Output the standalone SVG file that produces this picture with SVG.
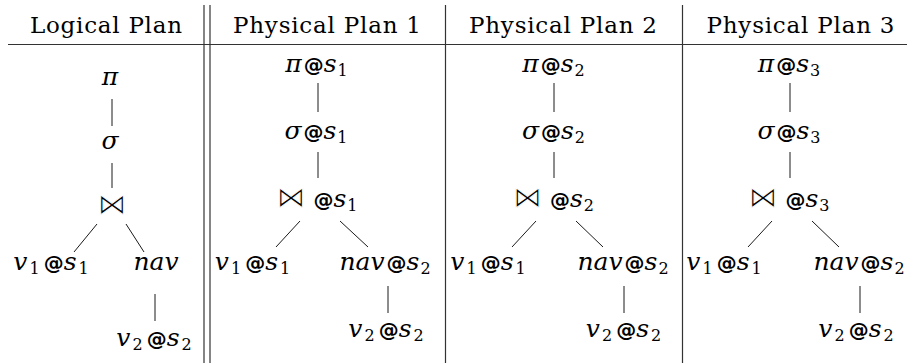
<svg xmlns="http://www.w3.org/2000/svg" width="907" height="363" viewBox="0 0 907 363">
<style>
.h{font-family:"DejaVu Serif",serif;font-size:23px;fill:#000}
.m{font-family:"DejaVu Serif",serif;font-style:italic;font-size:25px;fill:#000}
.sub{font-family:"DejaVu Serif",serif;font-style:normal;font-size:16px}
.at{font-family:"DejaVu Sans",sans-serif;font-weight:bold;font-style:normal;font-size:20px}
.bt{font-family:"DejaVu Sans",sans-serif;font-style:normal;font-size:29px;stroke:#fff;stroke-width:1}
.rule{stroke:#333;stroke-width:1.2;fill:none}
.edge{stroke:#000;stroke-width:0.9;fill:none}
</style>
<rect width="907" height="363" fill="#fff"/>
<g id="table">
<line class="rule" x1="8" y1="44.5" x2="907" y2="44.5"/>
<line class="rule" x1="204" y1="5" x2="204" y2="363"/>
<line class="rule" x1="210" y1="5" x2="210" y2="363"/>
<line class="rule" x1="445.5" y1="5" x2="445.5" y2="363"/>
<line class="rule" x1="682.5" y1="5" x2="682.5" y2="363"/>
<text class="h" x="106" y="33" text-anchor="middle" textLength="152" lengthAdjust="spacing">Logical Plan</text>
<text class="h" x="327" y="33" text-anchor="middle" textLength="188" lengthAdjust="spacing">Physical Plan 1</text>
<text class="h" x="563" y="33" text-anchor="middle" textLength="188" lengthAdjust="spacing">Physical Plan 2</text>
<text class="h" x="800.5" y="33" text-anchor="middle" textLength="188" lengthAdjust="spacing">Physical Plan 3</text>
</g>
<g id="connectors">
<line class="edge" x1="112" y1="99" x2="112" y2="126"/>
<line class="edge" x1="112" y1="163" x2="112" y2="188"/>
<line class="edge" x1="97" y1="224" x2="74" y2="252"/>
<line class="edge" x1="126" y1="224" x2="144" y2="252"/>
<line class="edge" x1="155" y1="294" x2="155" y2="321"/>
<line class="edge" x1="318" y1="83" x2="318" y2="112"/>
<line class="edge" x1="318" y1="152" x2="318" y2="178"/>
<line class="edge" x1="300" y1="221" x2="276" y2="247"/>
<line class="edge" x1="340" y1="221" x2="368" y2="247"/>
<line class="edge" x1="388" y1="286" x2="388" y2="313"/>
<line class="edge" x1="554" y1="83" x2="554" y2="112"/>
<line class="edge" x1="554" y1="152" x2="554" y2="178"/>
<line class="edge" x1="536" y1="221" x2="512" y2="247"/>
<line class="edge" x1="576" y1="221" x2="603" y2="247"/>
<line class="edge" x1="624" y1="286" x2="624" y2="313"/>
<line class="edge" x1="790" y1="83" x2="790" y2="112"/>
<line class="edge" x1="790" y1="152" x2="790" y2="178"/>
<line class="edge" x1="772" y1="221" x2="748" y2="247"/>
<line class="edge" x1="812" y1="221" x2="839" y2="247"/>
<line class="edge" x1="860" y1="286" x2="860" y2="313"/>
</g>
<g id="L-pi"><text class="m" x="110" y="85" text-anchor="middle">π</text></g>
<g id="L-sigma"><text class="m" x="110" y="149" text-anchor="middle">σ</text></g>
<g id="L-join"><text class="m" x="112" y="214" text-anchor="middle"><tspan class="bt">⋈</tspan></text></g>
<g id="L-v1"><text class="m" x="51" y="270" text-anchor="middle">v<tspan class="sub" dy="4" dx="2">1</tspan><tspan class="at" dy="-4" dx="4">@</tspan>s<tspan class="sub" dy="4" dx="2">1</tspan></text></g>
<g id="L-nav"><text class="m" x="156" y="270" text-anchor="middle">nav</text></g>
<g id="L-v2"><text class="m" x="154" y="346" text-anchor="middle">v<tspan class="sub" dy="4" dx="2">2</tspan><tspan class="at" dy="-4" dx="4">@</tspan>s<tspan class="sub" dy="4" dx="2">2</tspan></text></g>

<g id="P1-pi"><text class="m" x="316.5" y="72" text-anchor="middle">π<tspan class="at" dx="2">@</tspan>s<tspan class="sub" dy="4" dx="1">1</tspan></text></g>
<g id="P1-sigma"><text class="m" x="316" y="139" text-anchor="middle">σ<tspan class="at" dx="2">@</tspan>s<tspan class="sub" dy="4" dx="1">1</tspan></text></g>
<g id="P1-join"><text class="m" x="317" y="207" text-anchor="middle"><tspan class="bt">⋈</tspan> <tspan class="at">@</tspan>s<tspan class="sub" dy="4" dx="1">1</tspan></text></g>
<g id="P1-v1"><text class="m" x="252.5" y="270" text-anchor="middle">v<tspan class="sub" dy="4" dx="2">1</tspan><tspan class="at" dy="-4" dx="4">@</tspan>s<tspan class="sub" dy="4" dx="2">1</tspan></text></g>
<g id="P1-nav"><text class="m" x="385" y="270" text-anchor="middle">nav<tspan class="at" dx="2">@</tspan>s<tspan class="sub" dy="4" dx="1">2</tspan></text></g>
<g id="P1-v2"><text class="m" x="386" y="337" text-anchor="middle">v<tspan class="sub" dy="4" dx="2">2</tspan><tspan class="at" dy="-4" dx="4">@</tspan>s<tspan class="sub" dy="4" dx="2">2</tspan></text></g>

<g id="P2-pi"><text class="m" x="553.5" y="72" text-anchor="middle">π<tspan class="at" dx="2">@</tspan>s<tspan class="sub" dy="4" dx="1">2</tspan></text></g>
<g id="P2-sigma"><text class="m" x="553.5" y="139" text-anchor="middle">σ<tspan class="at" dx="2">@</tspan>s<tspan class="sub" dy="4" dx="1">2</tspan></text></g>
<g id="P2-join"><text class="m" x="553.5" y="207" text-anchor="middle"><tspan class="bt">⋈</tspan> <tspan class="at">@</tspan>s<tspan class="sub" dy="4" dx="1">2</tspan></text></g>
<g id="P2-v1"><text class="m" x="488" y="270" text-anchor="middle">v<tspan class="sub" dy="4" dx="2">1</tspan><tspan class="at" dy="-4" dx="4">@</tspan>s<tspan class="sub" dy="4" dx="2">1</tspan></text></g>
<g id="P2-nav"><text class="m" x="623" y="270" text-anchor="middle">nav<tspan class="at" dx="2">@</tspan>s<tspan class="sub" dy="4" dx="1">2</tspan></text></g>
<g id="P2-v2"><text class="m" x="623.5" y="337" text-anchor="middle">v<tspan class="sub" dy="4" dx="2">2</tspan><tspan class="at" dy="-4" dx="4">@</tspan>s<tspan class="sub" dy="4" dx="2">2</tspan></text></g>

<g id="P3-pi"><text class="m" x="789" y="72" text-anchor="middle">π<tspan class="at" dx="2">@</tspan>s<tspan class="sub" dy="4" dx="1">3</tspan></text></g>
<g id="P3-sigma"><text class="m" x="789" y="139" text-anchor="middle">σ<tspan class="at" dx="2">@</tspan>s<tspan class="sub" dy="4" dx="1">3</tspan></text></g>
<g id="P3-join"><text class="m" x="789" y="207" text-anchor="middle"><tspan class="bt">⋈</tspan> <tspan class="at">@</tspan>s<tspan class="sub" dy="4" dx="1">3</tspan></text></g>
<g id="P3-v1"><text class="m" x="724" y="270" text-anchor="middle">v<tspan class="sub" dy="4" dx="2">1</tspan><tspan class="at" dy="-4" dx="4">@</tspan>s<tspan class="sub" dy="4" dx="2">1</tspan></text></g>
<g id="P3-nav"><text class="m" x="859" y="270" text-anchor="middle">nav<tspan class="at" dx="2">@</tspan>s<tspan class="sub" dy="4" dx="1">2</tspan></text></g>
<g id="P3-v2"><text class="m" x="856" y="337" text-anchor="middle">v<tspan class="sub" dy="4" dx="2">2</tspan><tspan class="at" dy="-4" dx="4">@</tspan>s<tspan class="sub" dy="4" dx="2">2</tspan></text></g>
</svg>
